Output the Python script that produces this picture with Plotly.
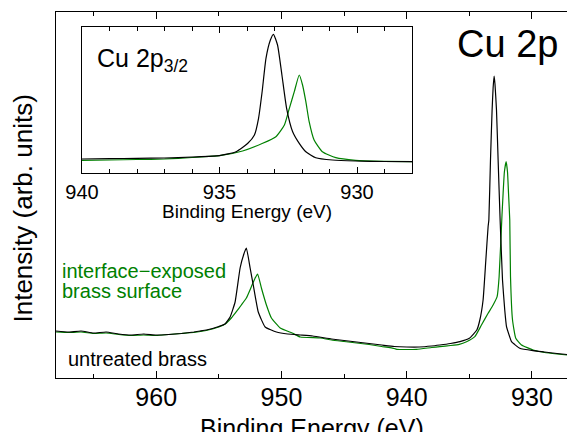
import plotly.graph_objects as go

# ---------------- data ----------------
# Main panel: Cu 2p region, intensity in arbitrary units
main_black_energy = [968.0, 967.0, 966.0, 965.0, 964.0, 963.0, 962.0, 961.0, 960.0, 959.0,
                     958.0, 957.0, 956.5, 956.0, 955.5, 955.0, 954.5, 954.1, 953.7, 953.3,
                     953.0, 952.8, 952.5, 952.25, 951.85, 951.3, 950.4, 949.5, 948.5, 947.5,
                     946.0, 945.0, 944.0, 943.0, 942.0, 941.0, 940.0, 939.0, 938.0, 937.35,
                     936.5, 935.75, 935.0, 934.4, 934.16, 933.9, 933.68, 933.5, 933.44, 933.31,
                     933.18, 933.1, 933.02, 932.95, 932.83, 932.70, 932.54, 932.35, 932.17, 932.03,
                     931.77, 931.63, 930.97, 929.9, 929.0, 928.0, 927.2]
main_black_intensity = [47, 46, 47, 45, 46, 44, 43, 44, 43, 43.5,
                        44.5, 46, 47, 48, 49.5, 51.5, 54, 61, 76, 110,
                        124, 130, 110, 93, 66, 51, 46, 44, 43, 42,
                        39, 37.5, 36, 34.5, 33, 31.5, 31, 31, 32, 33,
                        34.5, 36.3, 39.7, 48, 58, 78, 118, 151.3, 158, 218,
                        268, 290, 302, 294, 268, 218, 158, 98, 68, 51.3,
                        41, 36.3, 29.7, 27.3, 26, 24.5, 23.5]

main_green_energy = [968.0, 967.0, 966.0, 965.0, 964.0, 963.0, 962.0, 961.0, 960.0, 959.0,
                     958.0, 957.0, 956.0, 955.0, 954.5, 954.0, 953.6, 953.2, 952.8, 952.4,
                     952.1, 951.9, 951.6, 951.2, 950.8, 950.1, 949.1, 948.5, 946.9, 946.0,
                     945.0, 944.0, 943.0, 942.0, 941.0, 940.8, 940.0, 939.2, 938.0, 937.35,
                     936.5, 935.8, 935.22, 934.56, 934.03, 933.5, 933.1, 932.78, 932.62, 932.39,
                     932.30, 932.2, 932.06, 931.95, 931.87, 931.77, 931.71, 931.55, 931.29, 930.83,
                     929.9, 929.0, 928.0, 927.2]
main_green_intensity = [46, 45.5, 46, 44.5, 45, 43.5, 42.5, 43, 42.5, 43.5,
                        44.5, 45.5, 47.5, 51, 54, 60, 66.3, 73, 80, 91.3,
                        100, 104, 90, 73, 60, 50, 44.7, 41, 40, 38,
                        36.5, 35, 33.5, 31.5, 29.5, 28.7, 28.5, 28.7, 30.5, 31.3,
                        32.5, 33.7, 36.3, 41.3, 53, 64.7, 73, 81.3, 101.3, 163,
                        185, 206, 216.3, 206, 185, 158, 101.3, 58, 39.7, 33,
                        28, 25.5, 24, 23]

# Inset: Cu 2p3/2
inset_black_energy = [940.0, 939.0, 938.0, 937.0, 936.0, 935.0, 934.4, 933.97, 933.73, 933.58,
                      933.45, 933.31, 933.15, 933.04, 932.89, 932.73, 932.56, 932.34, 932.1, 931.86,
                      931.5, 930.89, 930.05, 929.0, 928.0]
inset_black_intensity = [14, 14.3, 14.7, 15, 16, 17.3, 21.3, 29.7, 38, 54.7,
                         81.3, 114.7, 133, 138.7, 128, 98, 64.7, 41.3, 29.7, 21.3,
                         15.3, 13, 12, 11.5, 11.3]
inset_green_energy = [940.0, 939.0, 938.0, 937.0, 936.0, 935.0, 934.16, 933.43, 932.95, 932.64,
                      932.46, 932.28, 932.1, 931.98, 931.86, 931.74, 931.56, 931.26, 930.77, 930.05,
                      929.0, 928.0]
inset_green_intensity = [12.7, 13, 13.5, 14, 15.5, 17.3, 22, 29.7, 36.3, 48,
                         64.7, 81.3, 98, 88, 71.3, 51.3, 33, 21.3, 15.3, 12.7,
                         11.7, 11.3]

main_ticks = [960, 950, 940, 930]
inset_ticks = [940, 935, 930]

# ---------------- layout helpers ----------------
W, H = 567, 432
L, R, T, B = 56, 567, 12, 378  # plot area in pixels


def px_x(p):
    return (p - L) / (R - L)


def px_y(p):
    return (B - p) / (B - T)


FONT = "Liberation Sans, Arial, sans-serif"
BLACK = "#000000"
GREEN = "#008000"

fig = go.Figure()
fig.add_trace(go.Scatter(x=main_green_energy, y=main_green_intensity, mode="lines",
                         line=dict(color=GREEN, width=1.2, shape="spline", smoothing=0.4),
                         xaxis="x", yaxis="y"))
fig.add_trace(go.Scatter(x=main_black_energy, y=main_black_intensity, mode="lines",
                         line=dict(color=BLACK, width=1.2, shape="spline", smoothing=0.4),
                         xaxis="x", yaxis="y"))
fig.add_trace(go.Scatter(x=inset_green_energy, y=inset_green_intensity, mode="lines",
                         line=dict(color=GREEN, width=1.2, shape="spline", smoothing=0.5),
                         xaxis="x2", yaxis="y2"))
fig.add_trace(go.Scatter(x=inset_black_energy, y=inset_black_intensity, mode="lines",
                         line=dict(color=BLACK, width=1.2, shape="spline", smoothing=0.5),
                         xaxis="x2", yaxis="y2"))

fig.update_layout(
    width=W, height=H,
    margin=dict(l=L, r=W - R, t=T, b=H - B, pad=0, autoexpand=False),
    paper_bgcolor="white", plot_bgcolor="white",
    showlegend=False,
    font=dict(family=FONT, color=BLACK),
    xaxis=dict(domain=[0, 1], range=[968, 927.2], tickvals=main_ticks, automargin=False,
               ticks="inside", ticklen=7, tickwidth=1, tickcolor=BLACK,
               minor=dict(dtick=5, tick0=930, ticks="inside", ticklen=4, tickwidth=1, tickcolor=BLACK),
               showline=True, linecolor=BLACK, linewidth=1, mirror="ticks",
               showgrid=False, zeroline=False, tickfont=dict(size=25, family=FONT),
               ticklabelstandoff=-3),
    yaxis=dict(domain=[0, 1], range=[0, 366], showticklabels=False, ticks="", automargin=False,
               showline=True, linecolor=BLACK, linewidth=1, mirror=False,
               showgrid=False, zeroline=False),
    xaxis2=dict(domain=[px_x(82), px_x(412)], anchor="y2", range=[940, 928], tickvals=inset_ticks,
                automargin=False,
                ticks="inside", ticklen=6, tickwidth=1, tickcolor=BLACK,
                minor=dict(dtick=1, tick0=930, ticks="inside", ticklen=4, tickwidth=1, tickcolor=BLACK),
                showline=True, linecolor=BLACK, linewidth=1, mirror="ticks",
                showgrid=False, zeroline=False, tickfont=dict(size=20, family=FONT),
                ticklabelstandoff=1),
    yaxis2=dict(domain=[px_y(173), px_y(27)], anchor="x2", range=[0, 146], automargin=False,
                showticklabels=False, ticks="", showline=True, linecolor=BLACK, linewidth=1,
                mirror=True, showgrid=False, zeroline=False),
)

ann = [
    dict(text="Binding Energy (eV)", x=px_x(311.5), y=px_y(412), xanchor="center", yanchor="top",
         font=dict(size=25)),
    dict(text="Intensity (arb. units)", x=px_x(22), y=px_y(208.5), xanchor="center", yanchor="middle",
         textangle=-90, font=dict(size=26)),
    dict(text="Cu 2p", x=px_x(455), y=px_y(44), xanchor="left", yanchor="middle", font=dict(size=38)),
    dict(text="Cu 2p<sub>3/2</sub>", x=px_x(95), y=px_y(60), xanchor="left", yanchor="middle",
         font=dict(size=25)),
    dict(text="Binding Energy (eV)", x=px_x(247), y=px_y(211), xanchor="center", yanchor="middle",
         font=dict(size=19)),
    dict(text="interface\u2212exposed", x=px_x(60), y=px_y(271), xanchor="left", yanchor="middle",
         font=dict(size=20, color=GREEN)),
    dict(text="brass surface", x=px_x(60), y=px_y(291), xanchor="left", yanchor="middle",
         font=dict(size=20, color=GREEN)),
    dict(text="untreated brass", x=px_x(66), y=px_y(359), xanchor="left", yanchor="middle",
         font=dict(size=20, color=BLACK)),
]
for a in ann:
    a.update(xref="paper", yref="paper", showarrow=False)
fig.update_layout(annotations=ann)

fig.write_html("out.html", config={"displayModeBar": False},
               post_script="document.body.style.margin='0';document.body.style.overflow='hidden';")
